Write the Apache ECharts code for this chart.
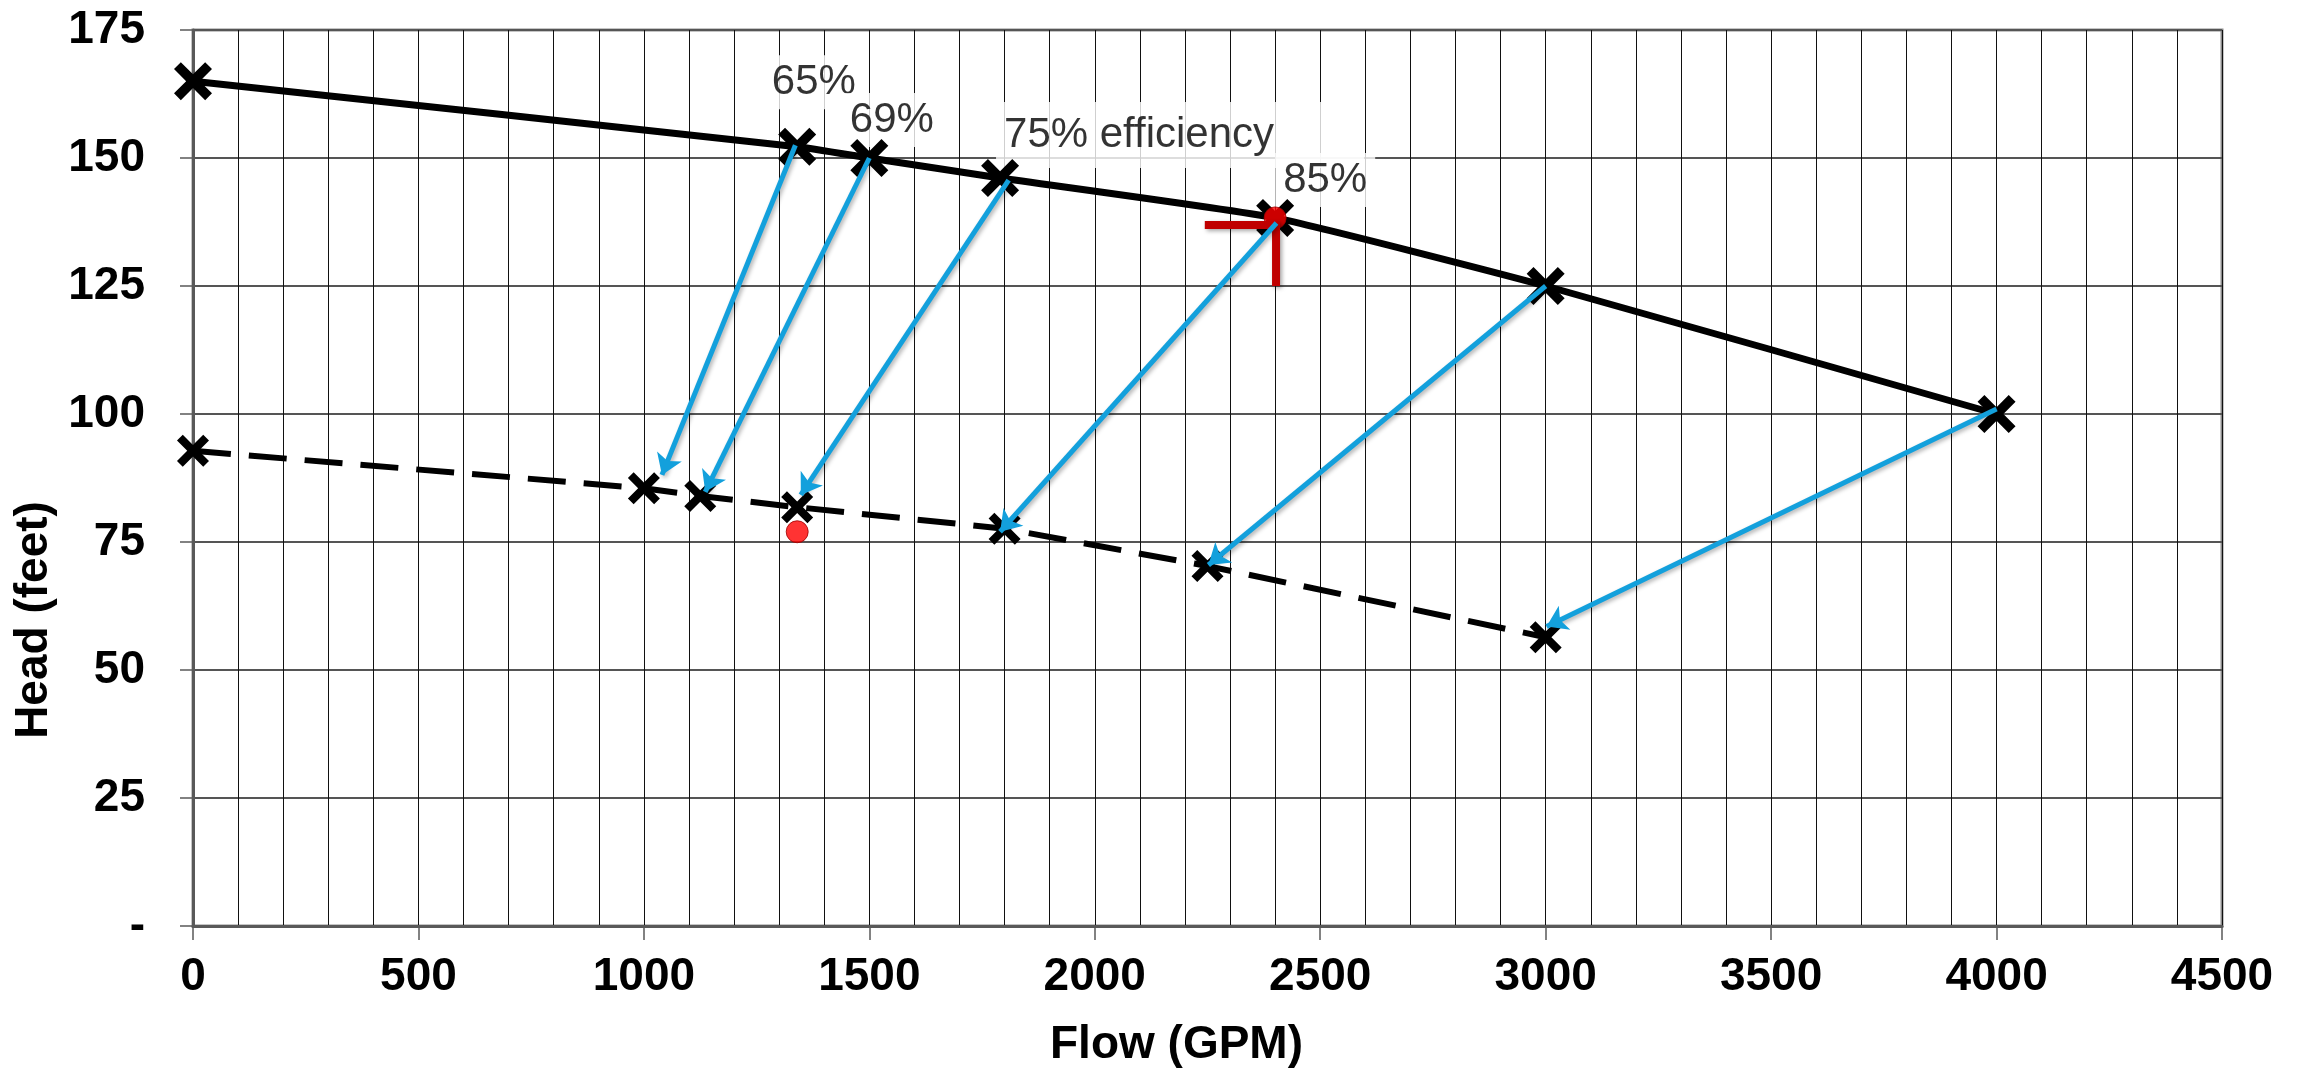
<!DOCTYPE html>
<html>
<head>
<meta charset="utf-8">
<title>Head vs Flow</title>
<script src="https://cdn.jsdelivr.net/npm/echarts@6/dist/echarts.min.js"></script>
<style>
    html, body { margin: 0; padding: 0; background: #fff; }
    #main { width: 2305px; height: 1074px; }
</style>
</head>
<body>
<div id="main"></div>
<script>
// pump curve (solid line)
var pumpFlow = [0, 1340, 1500, 1790, 2400, 3000, 4000];
var pumpHead = [165, 152.2, 150, 146.1, 138.3, 125, 100];

// reduced curve (dashed line)
var lowFlow = [0, 1000, 1125, 1340, 1800, 2250, 3000];
var lowHead = [92.8, 85.5, 84, 81.8, 77.6, 70.3, 56.4];

// blue arrows, from the pump curve down to the dashed curve
var arrowFromX = [1336, 1500, 1809, 2403, 3000, 4000];
var arrowFromY = [152.5, 150, 145.7, 137.3, 125, 101];
var arrowToX = [1040, 1136, 1348, 1790, 2252, 3002];
var arrowToY = [88.1, 84.8, 84.2, 77.0, 70.5, 58.5];

// efficiency labels
var effText = ['65%', '69%', '75% efficiency', '85%'];
var effX = [1266, 1439, 1781, 2400];
var effY = [164.8, 157.4, 154.5, 145.7];

// red dots
var dotX = [2400, 1340];
var dotY = [138.3, 77];

// red corner mark at the 85% point
var cornerX = [2244, 2402, 2402];
var cornerY = [136.9, 136.9, 125];

// axis ticks
var xMin = 0, xMax = 4500, xStep = 500;
var yMin = 0, yMax = 175, yStep = 25;
var yZeroLabel = '-';

var font = 'Liberation Sans, Arial, sans-serif';
var xMark = 'path://M0,1.8 L1.8,0 L5,3.2 L8.2,0 L10,1.8 L6.8,5 L10,8.2 L8.2,10 L5,6.8 L1.8,10 L0,8.2 L3.2,5 Z';

function pairs(xs, ys) {
    var out = [];
    for (var i = 0; i < xs.length; i++) {
        out.push([xs[i], ys[i]]);
    }
    return out;
}

var arrows = [];
for (var i = 0; i < arrowFromX.length; i++) {
    arrows.push({ coords: [[arrowFromX[i], arrowFromY[i]], [arrowToX[i], arrowToY[i]]] });
}

var labels = [];
for (var j = 0; j < effText.length; j++) {
    var item = { value: [effX[j], effY[j]], name: effText[j] };
    if (effText[j] == '75% efficiency') {
        item.label = { padding: [12, 90, 12, 8] };
    }
    labels.push(item);
}

var myChart = echarts.init(document.getElementById('main'), null, { renderer: 'canvas' });

var option = {
    backgroundColor: '#fff',
    animation: false,
    grid: {
        left: 193,
        top: 30,
        width: 2029,
        height: 896,
        containLabel: false,
        outerBoundsMode: 'none',
        show: true,
        borderColor: '#8c8c8c',
        borderWidth: 3
    },
    xAxis: {
        type: 'value',
        min: xMin,
        max: xMax,
        interval: xStep,
        name: 'Flow (GPM)',
        nameLocation: 'middle',
        nameGap: 96,
        nameTextStyle: {
            fontFamily: font,
            fontWeight: 'bold',
            fontSize: 46,
            color: '#000',
            padding: [0, 62, 0, 0]
        },
        axisLine: { show: true, lineStyle: { color: '#595959', width: 3 } },
        axisTick: { show: true, inside: false, length: 14, lineStyle: { color: '#595959', width: 1.5 } },
        axisLabel: {
            margin: 28,
            fontFamily: font,
            fontWeight: 'bold',
            fontSize: 46,
            color: '#000',
            formatter: function(v) {
                return String(v);
            }
        },
        splitLine: { show: true, lineStyle: { color: '#111', width: 1 } },
        minorTick: { show: false, splitNumber: 5 },
        minorSplitLine: { show: true, lineStyle: { color: '#111', width: 1 } }
    },
    yAxis: {
        type: 'value',
        min: yMin,
        max: yMax,
        interval: yStep,
        name: 'Head (feet)',
        nameLocation: 'middle',
        nameGap: 130,
        nameTextStyle: {
            fontFamily: font,
            fontWeight: 'bold',
            fontSize: 46,
            color: '#000',
            padding: [0, 284, 0, 0]
        },
        axisLine: { show: true, lineStyle: { color: '#595959', width: 3 } },
        axisTick: { show: true, inside: false, length: 13, lineStyle: { color: '#595959', width: 1.5 } },
        axisLabel: {
            margin: 48,
            fontFamily: font,
            fontWeight: 'bold',
            fontSize: 46,
            color: '#000',
            formatter: function(v) {
                return v === 0 ? yZeroLabel : String(v);
            }
        },
        splitLine: { show: true, lineStyle: { color: '#555', width: 2 } }
    },
    series: [
        {
            // white-boxed efficiency labels
            type: 'scatter',
            z: 1,
            symbolSize: 0,
            silent: true,
            data: labels,
            label: {
                show: true,
                position: 'right',
                distance: 0,
                formatter: '{b}',
                fontFamily: font,
                fontSize: 42,
                color: '#000',
                backgroundColor: '#fff',
                padding: [6, 8]
            }
        },
        {
            type: 'line',
            z: 3,
            data: pairs(lowFlow, lowHead),
            symbol: xMark,
            symbolSize: 32,
            itemStyle: { color: '#000' },
            lineStyle: { color: '#000', width: 6, type: [38, 18] }
        },
        {
            type: 'line',
            z: 3,
            data: pairs(pumpFlow, pumpHead),
            smooth: 0.15,
            symbol: xMark,
            symbolSize: 38,
            itemStyle: { color: '#000' },
            lineStyle: { color: '#000', width: 7 }
        },
        {
            type: 'scatter',
            z: 4,
            data: pairs(dotX, dotY),
            symbol: 'circle',
            symbolSize: 22,
            itemStyle: { color: '#ff0000', borderColor: '#a00000', borderWidth: 1 }
        },
        {
            type: 'line',
            z: 5,
            data: pairs(cornerX, cornerY),
            symbol: 'none',
            lineStyle: {
                color: '#c00000',
                width: 8,
                cap: 'butt',
                join: 'miter',
                shadowBlur: 4,
                shadowColor: 'rgba(0,0,0,0.35)',
                shadowOffsetX: 2,
                shadowOffsetY: 2
            }
        },
        {
            type: 'lines',
            coordinateSystem: 'cartesian2d',
            z: 6,
            symbol: ['none', 'arrow'],
            symbolSize: 20,
            data: arrows,
            lineStyle: {
                color: '#13a0dc',
                width: 5,
                opacity: 1,
                shadowBlur: 4,
                shadowColor: 'rgba(0,0,0,0.3)',
                shadowOffsetX: 2,
                shadowOffsetY: 2
            }
        }
    ]
};

myChart.setOption(option);
</script>
</body>
</html>
